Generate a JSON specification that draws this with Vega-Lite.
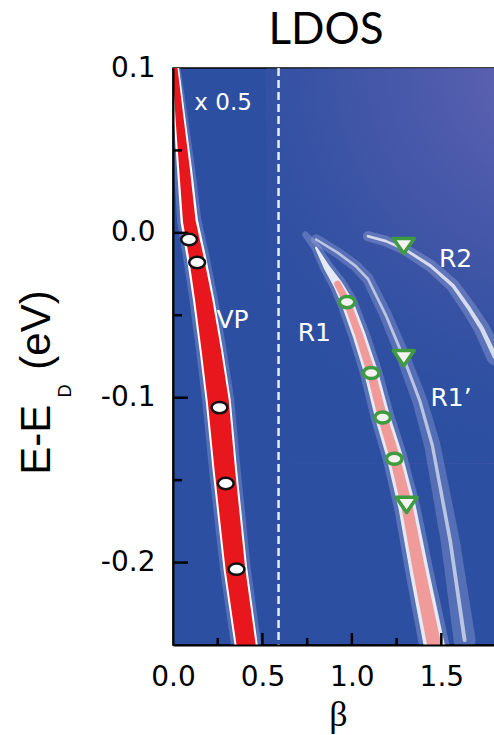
{
  "$schema": "https://vega.github.io/schema/vega-lite/v6.json",
  "width": 322,
  "height": 577,
  "autosize": {"type": "none"},
  "padding": {"left": 173, "top": 68, "right": 0, "bottom": 90},
  "background": "white",
  "title": {"text": "LDOS", "font": "Lato", "fontSize": 44, "fontWeight": "normal", "color": "black", "anchor": "middle", "frame": "group", "dx": -8, "offset": -34, "baseline": "alphabetic"},
  "config": {"view": {"fill": "#2D4FA1", "stroke": "black", "strokeWidth": 1.5}},
  "datasets": {
    "vp": [
      {"beta": 0.011, "E": 0.1},
      {"beta": 0.038, "E": 0.068},
      {"beta": 0.065, "E": 0.038},
      {"beta": 0.091, "E": 0.007},
      {"beta": 0.129, "E": -0.014},
      {"beta": 0.172, "E": -0.041},
      {"beta": 0.215, "E": -0.072},
      {"beta": 0.253, "E": -0.102},
      {"beta": 0.29, "E": -0.144},
      {"beta": 0.349, "E": -0.204},
      {"beta": 0.409, "E": -0.25}
    ],
    "r1": [
      {"beta": 0.74, "E": -0.001},
      {"beta": 0.8, "E": -0.009},
      {"beta": 0.86, "E": -0.021},
      {"beta": 0.92, "E": -0.031},
      {"beta": 0.973, "E": -0.042},
      {"beta": 1.04, "E": -0.062},
      {"beta": 1.108, "E": -0.085},
      {"beta": 1.172, "E": -0.112},
      {"beta": 1.237, "E": -0.135},
      {"beta": 1.31, "E": -0.167},
      {"beta": 1.38, "E": -0.207},
      {"beta": 1.46, "E": -0.25}
    ],
    "r1p": [
      {"beta": 0.8, "E": -0.004},
      {"beta": 0.92, "E": -0.012},
      {"beta": 1.02, "E": -0.02},
      {"beta": 1.09, "E": -0.028},
      {"beta": 1.19, "E": -0.05},
      {"beta": 1.29, "E": -0.076},
      {"beta": 1.38, "E": -0.102},
      {"beta": 1.45, "E": -0.129},
      {"beta": 1.55, "E": -0.187},
      {"beta": 1.63, "E": -0.247}
    ],
    "r2": [
      {"beta": 1.09, "E": -0.002},
      {"beta": 1.19, "E": -0.005},
      {"beta": 1.296, "E": -0.01},
      {"beta": 1.44, "E": -0.02},
      {"beta": 1.565, "E": -0.032},
      {"beta": 1.656, "E": -0.046},
      {"beta": 1.726, "E": -0.058},
      {"beta": 1.8, "E": -0.075}
    ],
    "vpm": [
      {"beta": 0.09, "E": -0.004},
      {"beta": 0.135, "E": -0.018},
      {"beta": 0.26, "E": -0.106},
      {"beta": 0.295, "E": -0.152},
      {"beta": 0.355, "E": -0.204}
    ],
    "r1m": [
      {"beta": 0.973, "E": -0.042},
      {"beta": 1.108, "E": -0.085},
      {"beta": 1.172, "E": -0.112},
      {"beta": 1.237, "E": -0.137}
    ],
    "tri": [
      {"beta": 1.29, "E": -0.008},
      {"beta": 1.29, "E": -0.076},
      {"beta": 1.306, "E": -0.165}
    ],
    "labels": [
      {"beta": 0.28, "E": 0.079, "label": "x 0.5", "kind": "scale"},
      {"beta": 0.333, "E": -0.053, "label": "VP", "kind": "band"},
      {"beta": 0.79, "E": -0.061, "label": "R1", "kind": "band"},
      {"beta": 1.58, "E": -0.016, "label": "R2", "kind": "band"},
      {"beta": 1.554, "E": -0.1, "label": "R1’", "kind": "band"}
    ],
    "xticks": [
      {"beta": 0.25, "kind": "minor"},
      {"beta": 0.5, "kind": "major"},
      {"beta": 0.75, "kind": "minor"},
      {"beta": 1.0, "kind": "major"},
      {"beta": 1.25, "kind": "minor"},
      {"beta": 1.5, "kind": "major"}
    ],
    "yticks": [
      {"E": 0.05, "kind": "minor"},
      {"E": 0.0, "kind": "major"},
      {"E": -0.05, "kind": "minor"},
      {"E": -0.1, "kind": "major"},
      {"E": -0.15, "kind": "minor"},
      {"E": -0.2, "kind": "major"}
    ]
  },
  "layer": [
    {
      "data": {"values": [{}]},
      "mark": {"type": "rect", "clip": true, "fill": {"gradient": "radial", "x1": 0.95, "y1": 0, "r1": 0, "x2": 0.95, "y2": 0, "r2": 1, "stops": [{"offset": 0, "color": "rgba(104,102,182,1)"}, {"offset": 0.55, "color": "rgba(78,90,170,0.55)"}, {"offset": 1, "color": "rgba(45,79,161,0)"}]}},
      "encoding": {
        "x": {"datum": 0.52, "type": "quantitative", "scale": {"domain": [0, 1.731]}, "axis": null},
        "x2": {"datum": 1.8},
        "y": {"datum": 0.1, "type": "quantitative", "scale": {"domain": [-0.25, 0.1]}, "axis": null},
        "y2": {"datum": -0.14}
      }
    },
    {
      "data": {"name": "vp"},
      "mark": {"type": "trail", "clip": true, "color": "#A9BBEA", "opacity": 0.3},
      "encoding": {
        "x": {"field": "beta", "type": "quantitative", "scale": {"domain": [0, 1.731]},
          "axis": {"orient": "bottom", "zindex": 1, "values": [0, 0.5, 1, 1.5], "format": ".1f", "ticks": false, "tickSize": 0, "domainColor": "black", "domainWidth": 2, "labelFont": "DejaVu Sans", "labelFontSize": 28, "labelColor": "black", "labelPadding": 18, "labelOverlap": false, "labelFlush": false, "grid": false, "title": "β", "titleFont": "Liberation Serif", "titleFontSize": 36, "titleFontWeight": "normal", "titleColor": "black", "titleX": 165, "titleY": 80, "titleBaseline": "alphabetic", "titleAlign": "center"}},
        "y": {"field": "E", "type": "quantitative", "scale": {"domain": [-0.25, 0.1]},
          "axis": {"orient": "left", "zindex": 1, "values": [0.1, 0, -0.1, -0.2], "labelExpr": "(datum.value < -0.001 ? '-' : '') + format(abs(datum.value), '.1f')", "ticks": false, "tickSize": 0, "domainColor": "black", "domainWidth": 2, "labelFont": "DejaVu Sans", "labelFontSize": 28, "labelColor": "black", "labelPadding": 18, "labelOverlap": false, "labelFlush": false, "grid": false, "title": "E-E\u00a0\u00a0\u00a0(eV)", "titleFont": "Liberation Sans", "titleFontSize": 42, "titleFontWeight": "normal", "titleColor": "black", "titleAngle": 270, "titleX": -124, "titleY": 314, "titleAlign": "center", "titleBaseline": "alphabetic"}},
        "size": {"field": "E", "type": "quantitative", "legend": null, "scale": {"domain": [-0.25, -0.1, -0.05, 0, 0.05, 0.1], "range": [30, 32, 29, 25, 20, 11]}}
      }
    },
    {
      "data": {"name": "vp"},
      "mark": {"type": "trail", "clip": true, "color": "#FFFFFF"},
      "encoding": {
        "x": {"field": "beta", "type": "quantitative", "axis": null},
        "y": {"field": "E", "type": "quantitative", "axis": null},
        "size": {"field": "E", "type": "quantitative", "legend": null, "scale": {"domain": [-0.25, -0.1, -0.05, 0, 0.05, 0.1], "range": [23, 25, 22, 18, 14, 8]}}
      }
    },
    {
      "data": {"name": "vp"},
      "mark": {"type": "trail", "clip": true, "color": "#E8171D"},
      "encoding": {
        "x": {"field": "beta", "type": "quantitative", "axis": null},
        "y": {"field": "E", "type": "quantitative", "axis": null},
        "size": {"field": "E", "type": "quantitative", "legend": null, "scale": {"domain": [-0.25, -0.1, -0.05, 0, 0.05, 0.1], "range": [19, 21, 18, 13, 10, 5]}}
      }
    },
    {
      "data": {"name": "r1"},
      "mark": {"type": "trail", "clip": true, "color": "#B9C3EC", "opacity": 0.3},
      "encoding": {
        "x": {"field": "beta", "type": "quantitative", "axis": null},
        "y": {"field": "E", "type": "quantitative", "axis": null},
        "size": {"field": "E", "type": "quantitative", "legend": null, "scale": {"domain": [-0.25, -0.04, 0], "range": [30, 20, 6]}}
      }
    },
    {
      "data": {"name": "r1"},
      "transform": [{"filter": "datum.E <= -0.008"}],
      "mark": {"type": "trail", "clip": true, "color": "#FFFFFF", "opacity": 0.85},
      "encoding": {
        "x": {"field": "beta", "type": "quantitative", "axis": null},
        "y": {"field": "E", "type": "quantitative", "axis": null},
        "size": {"field": "E", "type": "quantitative", "legend": null, "scale": {"domain": [-0.25, -0.04, -0.008], "range": [21, 12, 2]}}
      }
    },
    {
      "data": {"name": "r1"},
      "transform": [{"filter": "datum.E <= -0.03"}],
      "mark": {"type": "trail", "clip": true, "color": "#F19A9A"},
      "encoding": {
        "x": {"field": "beta", "type": "quantitative", "axis": null},
        "y": {"field": "E", "type": "quantitative", "axis": null},
        "size": {"field": "E", "type": "quantitative", "legend": null, "scale": {"domain": [-0.25, -0.04], "range": [14, 7]}}
      }
    },
    {
      "data": {"name": "r1p"},
      "mark": {"type": "trail", "clip": true, "color": "#B9C3EC", "opacity": 0.28},
      "encoding": {
        "x": {"field": "beta", "type": "quantitative", "axis": null},
        "y": {"field": "E", "type": "quantitative", "axis": null},
        "size": {"field": "E", "type": "quantitative", "legend": null, "scale": {"domain": [-0.25, 0], "range": [22, 10]}}
      }
    },
    {
      "data": {"name": "r1p"},
      "mark": {"type": "trail", "clip": true, "color": "#FFFFFF", "opacity": 0.6},
      "encoding": {
        "x": {"field": "beta", "type": "quantitative", "axis": null},
        "y": {"field": "E", "type": "quantitative", "axis": null},
        "size": {"field": "E", "type": "quantitative", "legend": null, "scale": {"domain": [-0.25, 0], "range": [4, 2.5]}}
      }
    },
    {
      "data": {"name": "r2"},
      "mark": {"type": "trail", "clip": true, "color": "#B9C3EC", "opacity": 0.3},
      "encoding": {
        "x": {"field": "beta", "type": "quantitative", "axis": null},
        "y": {"field": "E", "type": "quantitative", "axis": null},
        "size": {"field": "E", "type": "quantitative", "legend": null, "scale": {"domain": [-0.08, 0], "range": [18, 10]}}
      }
    },
    {
      "data": {"name": "r2"},
      "mark": {"type": "trail", "clip": true, "color": "#FFFFFF", "opacity": 0.75},
      "encoding": {
        "x": {"field": "beta", "type": "quantitative", "axis": null},
        "y": {"field": "E", "type": "quantitative", "axis": null},
        "size": {"field": "E", "type": "quantitative", "legend": null, "scale": {"domain": [-0.08, 0], "range": [5, 2.5]}}
      }
    },
    {
      "data": {"values": [{}]},
      "mark": {"type": "rule", "color": "#E4ECFA", "strokeWidth": 2.5, "strokeDash": [8, 4]},
      "encoding": {
        "x": {"datum": 0.59, "type": "quantitative", "axis": null}
      }
    },
    {
      "data": {"name": "xticks"},
      "mark": {"type": "tick", "orient": "vertical", "clip": true, "color": "#000000", "thickness": 2.5, "opacity": 1},
      "encoding": {
        "x": {"field": "beta", "type": "quantitative", "axis": null},
        "y": {"datum": -0.25, "type": "quantitative", "axis": null},
        "size": {"condition": {"test": "datum.kind == 'major'", "value": 24}, "value": 14}
      }
    },
    {
      "data": {"name": "yticks"},
      "mark": {"type": "tick", "orient": "horizontal", "clip": true, "color": "#000000", "thickness": 2.5, "opacity": 1},
      "encoding": {
        "y": {"field": "E", "type": "quantitative", "axis": null},
        "x": {"datum": 0, "type": "quantitative", "axis": null},
        "size": {"condition": {"test": "datum.kind == 'major'", "value": 30}, "value": 18}
      }
    },
    {
      "data": {"name": "labels"},
      "transform": [{"filter": "datum.kind == 'scale'"}],
      "mark": {"type": "text", "color": "white", "font": "DejaVu Sans", "fontSize": 23, "align": "center", "baseline": "middle"},
      "encoding": {
        "x": {"field": "beta", "type": "quantitative", "axis": null},
        "y": {"field": "E", "type": "quantitative", "axis": null},
        "text": {"field": "label"}
      }
    },
    {
      "data": {"name": "labels"},
      "transform": [{"filter": "datum.kind == 'band'"}],
      "mark": {"type": "text", "color": "white", "font": "DejaVu Sans", "fontSize": 25, "align": "center", "baseline": "middle"},
      "encoding": {
        "x": {"field": "beta", "type": "quantitative", "axis": null},
        "y": {"field": "E", "type": "quantitative", "axis": null},
        "text": {"field": "label"}
      }
    },
    {
      "data": {"name": "vpm"},
      "mark": {"type": "point", "shape": "M-1,0A1,0.72,0,1,0,1,0A1,0.72,0,1,0,-1,0Z", "size": 250, "filled": true, "fill": "white", "stroke": "#111111", "strokeWidth": 2.5, "opacity": 1},
      "encoding": {
        "x": {"field": "beta", "type": "quantitative", "axis": null},
        "y": {"field": "E", "type": "quantitative", "axis": null}
      }
    },
    {
      "data": {"name": "r1m"},
      "mark": {"type": "point", "shape": "M-1,0A1,0.72,0,1,0,1,0A1,0.72,0,1,0,-1,0Z", "size": 240, "filled": true, "fill": "#F6F2F2", "stroke": "#3F9B3F", "strokeWidth": 3.5, "opacity": 1},
      "encoding": {
        "x": {"field": "beta", "type": "quantitative", "axis": null},
        "y": {"field": "E", "type": "quantitative", "axis": null}
      }
    },
    {
      "data": {"name": "tri"},
      "mark": {"type": "point", "shape": "M-1,-0.72L1,-0.72L0,0.72Z", "size": 440, "filled": true, "fill": "#F6F2F2", "stroke": "#3F9B3F", "strokeWidth": 3.5, "strokeJoin": "round", "opacity": 1},
      "encoding": {
        "x": {"field": "beta", "type": "quantitative", "axis": null},
        "y": {"field": "E", "type": "quantitative", "axis": null}
      }
    },
    {
      "data": {"values": [{}]},
      "mark": {"type": "text", "text": "D", "font": "Liberation Sans", "fontSize": 18, "angle": 270, "align": "center", "baseline": "alphabetic", "color": "black"},
      "encoding": {
        "x": {"datum": -0.57, "type": "quantitative", "axis": null},
        "y": {"datum": -0.096, "type": "quantitative", "axis": null}
      }
    }
  ],
  "resolve": {"scale": {"size": "independent"}, "axis": {"x": "independent", "y": "independent"}}
}
